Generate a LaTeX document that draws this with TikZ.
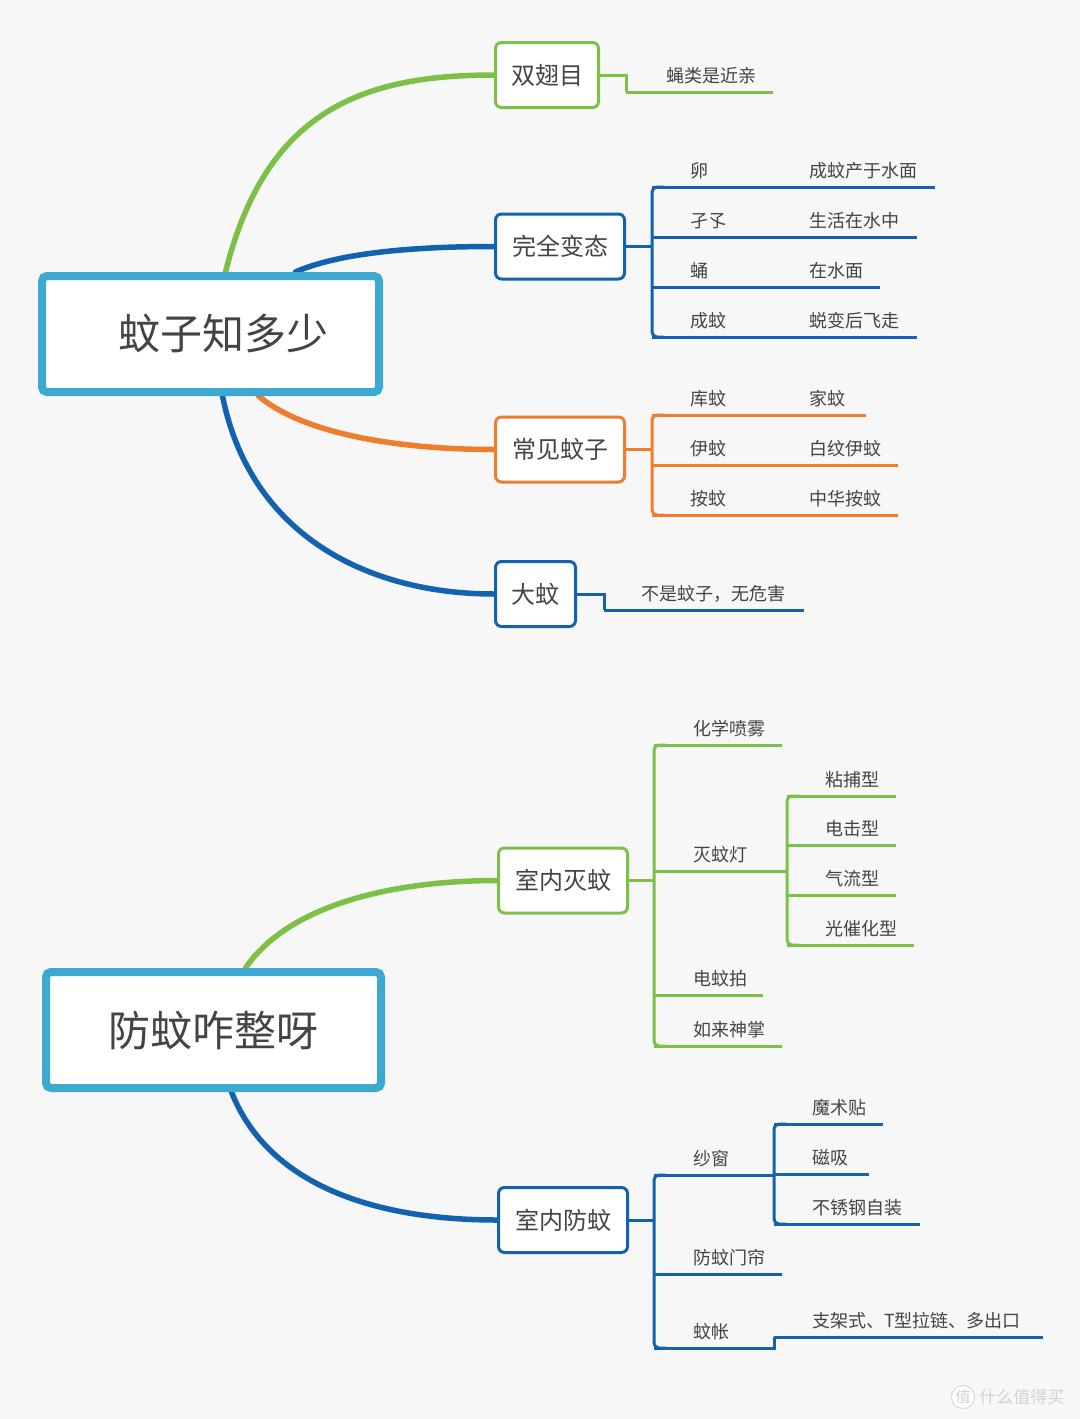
\documentclass[tikz,border=0pt]{standalone}
\usepackage{fontspec}
\setmainfont{Noto Sans CJK SC}
\definecolor{mmgreen}{RGB}{125,192,70}
\definecolor{mmblue}{RGB}{18,98,176}
\definecolor{mmorange}{RGB}{238,125,45}
\definecolor{mmroot}{RGB}{60,170,208}
\definecolor{mmtext}{RGB}{68,68,68}
\definecolor{mmbg}{RGB}{247,247,247}
\usetikzlibrary{calc,backgrounds}

\tikzset{
  rootbox/.style={draw=mmroot, line width=8pt, fill=white, rounded corners=5pt,
    minimum height=116pt, inner sep=0, text=mmtext, font=\fontsize{42}{42}\selectfont},
  mainbox/.style={draw=#1, line width=3pt, fill=white, rounded corners=6pt,
    minimum height=65pt, inner sep=0, text=mmtext, font=\fontsize{24}{24}\selectfont},
  branch/.style={draw=#1, line width=5.5pt, line cap=round},
  bar/.style={draw=#1, line width=3pt, rounded corners=5pt},
  link/.style={draw=#1, line width=3pt},
  topic/.style 2 args={anchor=south west, inner sep=0, outer sep=0, align=left,
    text width=#2, text height=15pt, text depth=10pt, text=mmtext,
    font=\fontsize{18}{18}\selectfont,
    append after command={(\tikzlastnode.south west) edge[draw=#1, line width=3pt] (\tikzlastnode.south east)}},
}

\begin{document}
\begin{tikzpicture}[x=1pt, y=-1pt]
\useasboundingbox (0,0) rectangle (1080,1419);

% === Map 1: root and main topics ===
\node[rootbox, minimum width=337pt] (root1) at (210.5,334) {\hspace*{26pt}蚊子知多少};
\node[mainbox=mmgreen, minimum width=103pt] (dip) at (547,75) {双翅目};
\node[mainbox=mmblue, minimum width=129pt] (meta) at (560,246.5) {完全变态};
\node[mainbox=mmorange, minimum width=129pt] (common) at (560,449.5) {常见蚊子};
\node[mainbox=mmblue, minimum width=80pt] (crane) at (535.5,594) {大蚊};

% 双翅目
\node[topic={mmgreen}{147pt}] (flyG) at (626,92) {\hspace*{40pt}蝇类是近亲};
\draw[link=mmgreen] (dip.east) -| (flyG.south west);

% 完全变态
\node[topic={mmblue}{93pt}] (egg) at (652,187) {\hspace*{38pt}卵};
\node[topic={mmblue}{190pt}] (eggG) at (egg.south east) {\hspace*{64pt}成蚊产于水面};
\node[topic={mmblue}{93pt}] (larva) at (652,237) {\hspace*{38pt}孑孓};
\node[topic={mmblue}{172pt}] (larvaG) at (larva.south east) {\hspace*{64pt}生活在水中};
\node[topic={mmblue}{93pt}] (pupa) at (652,287) {\hspace*{38pt}蛹};
\node[topic={mmblue}{135pt}] (pupaG) at (pupa.south east) {\hspace*{64pt}在水面};
\node[topic={mmblue}{93pt}] (adult) at (652,337) {\hspace*{38pt}成蚊};
\node[topic={mmblue}{172pt}] (adultG) at (adult.south east) {\hspace*{64pt}蜕变后飞走};
\draw[link=mmblue] (meta.east) -- (meta.east -| egg.west);
\draw[bar=mmblue] ([xshift=12pt]egg.south west) -- (egg.south west) -- (adult.south west) -- ([xshift=12pt]adult.south west);

% 常见蚊子
\node[topic={mmorange}{93pt}] (culex) at (652,415) {\hspace*{38pt}库蚊};
\node[topic={mmorange}{121pt}] (culexG) at (culex.south east) {\hspace*{64pt}家蚊};
\node[topic={mmorange}{93pt}] (aedes) at (652,465) {\hspace*{38pt}伊蚊};
\node[topic={mmorange}{153pt}] (aedesG) at (aedes.south east) {\hspace*{64pt}白纹伊蚊};
\node[topic={mmorange}{93pt}] (anoph) at (652,515) {\hspace*{38pt}按蚊};
\node[topic={mmorange}{153pt}] (anophG) at (anoph.south east) {\hspace*{64pt}中华按蚊};
\draw[link=mmorange] (common.east) -- (common.east -| culex.west);
\draw[bar=mmorange] ([xshift=12pt]culex.south west) -- (culex.south west) -- (anoph.south west) -- ([xshift=12pt]anoph.south west);

% 大蚊
\node[topic={mmblue}{200pt}] (craneG) at (604,610) {\hspace*{37pt}不是蚊子，无危害};
\draw[link=mmblue] (crane.east) -| (craneG.south west);

% === Map 2: root and main topics ===
\node[rootbox, minimum width=335pt] (root2) at (213.5,1030) {防蚊咋整呀};
\node[mainbox=mmgreen, minimum width=129pt] (kill) at (563,880.5) {室内灭蚊};
\node[mainbox=mmblue, minimum width=129pt] (guard) at (563,1220) {室内防蚊};

% 室内灭蚊
\node[topic={mmgreen}{128pt}] (chem) at (654,745) {\hspace*{39pt}化学喷雾};
\node[topic={mmgreen}{106pt}] (lamp) at (654,871) {\hspace*{39pt}灭蚊灯};
\node[topic={mmgreen}{109pt}] (swat) at (654,995) {\hspace*{39pt}电蚊拍};
\node[topic={mmgreen}{128pt}] (palm) at (654,1046) {\hspace*{39pt}如来神掌};
\draw[link=mmgreen] (kill.east) -- (kill.east -| chem.west);
\draw[bar=mmgreen] ([xshift=12pt]chem.south west) -- (chem.south west) -- (palm.south west) -- ([xshift=12pt]palm.south west);

\node[topic={mmgreen}{109pt}] (sticky) at (787,796) {\hspace*{38pt}粘捕型};
\node[topic={mmgreen}{109pt}] (shock) at (787,845) {\hspace*{38pt}电击型};
\node[topic={mmgreen}{109pt}] (airflow) at (787,895) {\hspace*{38pt}气流型};
\node[topic={mmgreen}{127pt}] (photo) at (787,945) {\hspace*{38pt}光催化型};
\draw[link=mmgreen] (lamp.south east) -- (lamp.south east -| sticky.west);
\draw[bar=mmgreen] ([xshift=12pt]sticky.south west) -- (sticky.south west) -- (photo.south west) -- ([xshift=12pt]photo.south west);

% 室内防蚊
\node[topic={mmblue}{94pt}] (screen) at (654,1175) {\hspace*{39pt}纱窗};
\node[topic={mmblue}{128pt}] (curtain) at (654,1274) {\hspace*{39pt}防蚊门帘};
\node[topic={mmblue}{94pt}] (net) at (654,1348) {\hspace*{39pt}蚊帐};
\draw[link=mmblue] (guard.east) -- (guard.east -| screen.west);
\draw[bar=mmblue] ([xshift=12pt]screen.south west) -- (screen.south west) -- (net.south west) -- ([xshift=12pt]net.south west);

\node[topic={mmblue}{109pt}] (velcro) at (774,1124) {\hspace*{38pt}魔术贴};
\node[topic={mmblue}{95pt}] (magnet) at (774,1174) {\hspace*{38pt}磁吸};
\node[topic={mmblue}{146pt}] (steel) at (774,1224) {\hspace*{38pt}不锈钢自装};
\draw[link=mmblue] (screen.south east) -- (screen.south east -| velcro.west);
\draw[bar=mmblue] ([xshift=12pt]velcro.south west) -- (velcro.south west) -- (steel.south west) -- ([xshift=12pt]steel.south west);

\node[topic={mmblue}{269pt}] (netG) at (774,1337) {\hspace*{38pt}支架式、T型拉链、多出口};
\draw[link=mmblue] (net.south east) -| (netG.south west);

% === Watermark ===
\node[circle, draw=gray!30, fill=white, line width=1pt, inner sep=1pt, text=gray!35,
      font=\fontsize{15}{15}\selectfont] (wmlogo) at (963,1397) {值};
\node[anchor=west, text=gray!35, inner sep=0,
      font=\fontsize{17}{17}\selectfont] (wmtext) at ([xshift=4pt]wmlogo.east) {什么值得买};

% === Curves behind the boxes ===
\begin{pgfonlayer}{background}
\fill[mmbg] (0,0) rectangle (1080,1419);
\draw[branch=mmgreen] ([xshift=15pt]root1.north) .. controls +(40,-160) and +(-134,0) .. (dip.west);
\draw[branch=mmblue] ([xshift=85pt]root1.north) .. controls +(45,-20) and +(-75,0) .. (meta.west);
\draw[branch=mmorange] ([xshift=48pt]root1.south) .. controls +(45,38) and +(-95,0) .. (common.west);
\draw[branch=mmblue] ([xshift=12pt]root1.south) .. controls +(28,140) and +(-125,0) .. (crane.west);
\draw[branch=mmgreen] ([xshift=32pt]root2.north) .. controls +(45,-66) and +(-97,0) .. (kill.west);
\draw[branch=mmblue] ([xshift=18pt]root2.south) .. controls +(38,96) and +(-117,0) .. (guard.west);
\end{pgfonlayer}

\end{tikzpicture}
\end{document}
